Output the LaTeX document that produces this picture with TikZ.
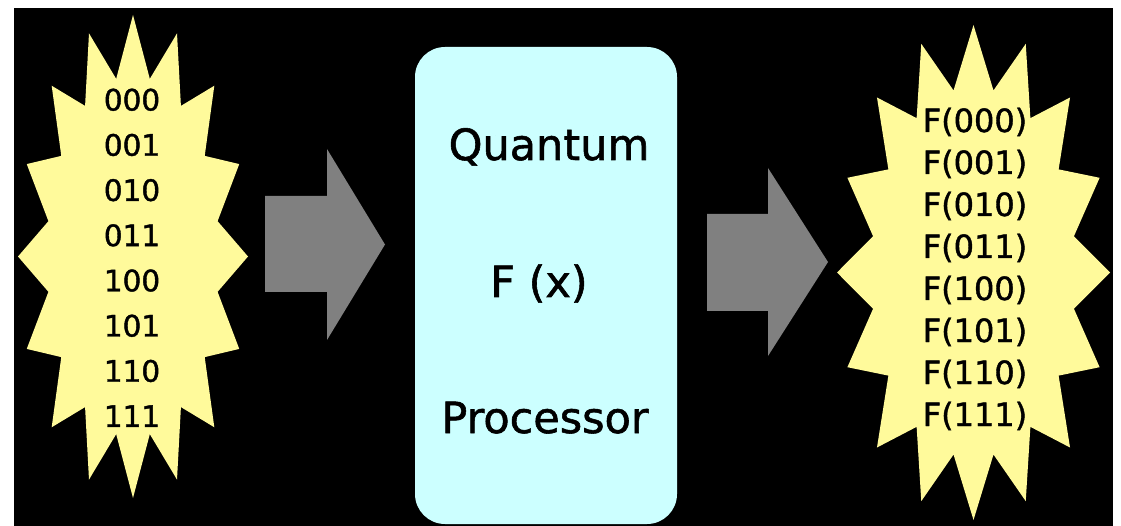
\documentclass[tikz,border=0pt]{standalone}
\usepackage{fontspec}
\setmainfont[FakeBold=1.3]{DejaVu Sans}
\usetikzlibrary{calc}
\definecolor{staryellow}{RGB}{255,250,155}
\definecolor{boxcyan}{RGB}{204,255,255}
\definecolor{arrowgray}{RGB}{128,128,128}
\tikzset{
  burst/.style={fill=staryellow},
  bigarrow/.style={fill=arrowgray},
  procbox/.style={fill=boxcyan, rounded corners=30pt},
  digit/.style={anchor=base, inner sep=0pt, font=\fontsize{29.5}{31}\selectfont},
  fval/.style={anchor=base, inner sep=0pt, font=\fontsize{32}{34}\selectfont},
  proctext/.style={anchor=base, inner sep=0pt, font=\fontsize{43}{46}\selectfont},
}
\begin{document}
\begin{tikzpicture}[x=1pt,y=-1pt]
\useasboundingbox (0,0) rectangle (1121,526);
\fill[white] (0,0) rectangle (1121,526);
\fill[black] (14,8) rectangle (1113,526);
% left starburst
\fill[burst] ($(133,256.5)+(90:115 and 241.5)$)
  \foreach \i in {1,...,31} { -- ($(133,256.5)+({90+\i*11.25}:{115*(1-0.25*mod(\i,2))} and {241.5*(1-0.25*mod(\i,2))})$) } -- cycle;
% right starburst
\fill[burst] ($(973.5,272.5)+(90:136.5 and 247.5)$)
  \foreach \i in {1,...,31} { -- ($(973.5,272.5)+({90+\i*11.25}:{136.5*(1-0.25*mod(\i,2))} and {247.5*(1-0.25*mod(\i,2))})$) } -- cycle;
% arrows
\fill[bigarrow] (265,196) -- (327,196) -- (327,149) -- (385,244.5) -- (327,340) -- (327,292) -- (265,292) -- cycle;
\fill[bigarrow] (707,214) -- (768,214) -- (768,168) -- (828,262) -- (768,356) -- (768,311) -- (707,311) -- cycle;
% processor box
\fill[procbox] (415,47) rectangle (677,524);
% texts
\foreach \t [count=\i from 0] in {000,001,010,011,100,101,110,111}
  \node[digit] (in\t) at (132,{110.5+45.2*\i}) {\t};
\foreach \t [count=\i from 0] in {000,001,010,011,100,101,110,111}
  \node[fval] (out\t) at (975,{132+42*\i}) {F(\t)};
\node[proctext] (quantum) at (549,160) {Quantum};
\node[proctext] (fx) at (539,297) {F (x)};
\node[proctext] (processor) at (545,433) {Processor};
\end{tikzpicture}
\end{document}
